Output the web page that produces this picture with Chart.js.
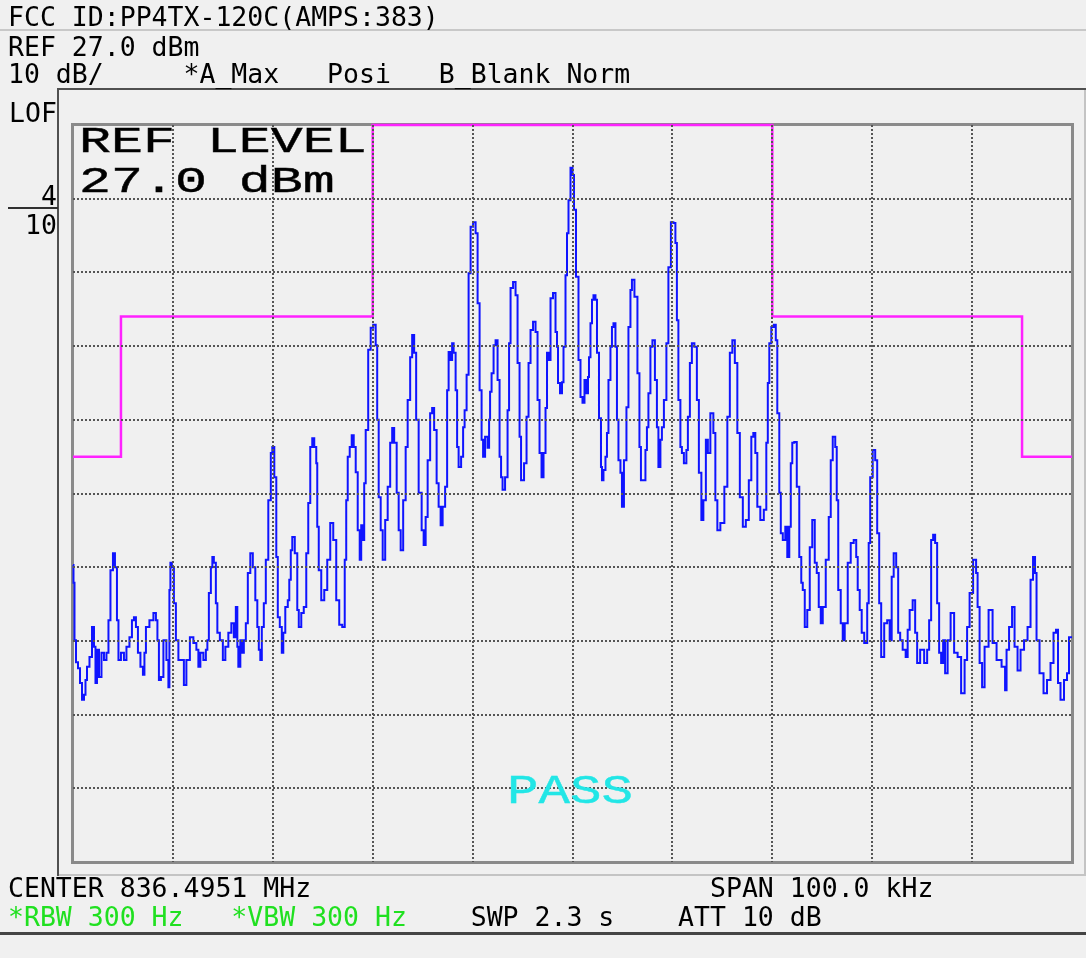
<!DOCTYPE html>
<html>
<head>
<meta charset="utf-8">
<script src="https://cdn.jsdelivr.net/npm/chart.js@4/dist/chart.umd.min.js"></script>
<style>
  html, body { margin: 0; padding: 0; background: #f0f0f0; }
  #wrap { position: relative; width: 1086px; height: 958px; overflow: hidden; background: #f0f0f0; }
  #c { position: absolute; left: 0; top: 0; }
  .ln { position: absolute; }
  .t {
    position: absolute; white-space: pre; color: #000;
    font-family: "DejaVu Sans Mono", monospace; font-size: 26.5px; line-height: 26.5px;
  }
  .big {
    position: absolute; white-space: pre; color: #000;
    font-family: "Liberation Mono", monospace;
    font-size: 37px; line-height: 37px;
    transform-origin: 0 0; transform: scaleX(1.44);
    -webkit-text-stroke: 0.4px #000;
  }
  .green { color: #20e020; }
</style>
</head>
<body>
<div id="wrap">
  <!-- frames -->
  <div class="ln" style="left:0;top:29px;width:1086px;height:2px;background:#c8c8c8"></div>
  <div class="ln" style="left:57px;top:88px;width:1029px;height:2px;background:#505050"></div>
  <div class="ln" style="left:57px;top:88px;width:2px;height:788px;background:#505050"></div>
  <div class="ln" style="left:1084px;top:90px;width:2px;height:786px;background:#c4c4c4"></div>
  <div class="ln" style="left:59px;top:874px;width:1027px;height:2px;background:#c4c4c4"></div>
  <div class="ln" style="left:8px;top:207px;width:50px;height:2px;background:#303030"></div>
  <div class="ln" style="left:71px;top:123px;width:997px;height:735px;border:3px solid #8a8a8a"></div>
  <div class="ln" style="left:0;top:932px;width:1086px;height:3px;background:#454545"></div>

  <canvas id="c" width="1086" height="958"></canvas>

  <div class="t" style="left:8px;top:4px">FCC ID:PP4TX-120C(AMPS:383)</div>
  <div class="t" style="left:8px;top:34px">REF 27.0 dBm</div>
  <div class="t" style="left:8px;top:61px">10 dB/     *A_Max   Posi   B_Blank Norm</div>
  <div class="t" style="left:9px;top:100px">LOF</div>
  <div class="t" style="left:41px;top:183px">4</div>
  <div class="t" style="left:25px;top:212px">10</div>

  <div class="big" style="left:79px;top:124px">REF LEVEL</div>
  <div class="big" style="left:79px;top:164px">27.0 dBm</div>
  <div class="big" style="left:507px;top:772px;font-size:41px;line-height:41px;transform:scaleX(1.28);color:#22e6e6;-webkit-text-stroke:0.4px #22e6e6">PASS</div>

  <div class="t" style="left:8px;top:875px">CENTER 836.4951 MHz                         SPAN 100.0 kHz</div>
  <div class="t" style="left:8px;top:904px"><span class="green">*RBW 300 Hz   *VBW 300 Hz</span>    SWP 2.3 s    ATT 10 dB</div>
</div>

<script>
// ---- axis grid (10 div x 10 div) ----
const xGrid = [-50, -40, -30, -20, -10, 0, 10, 20, 30, 40, 50];   // kHz offset from 836.4951 MHz
const yGrid = [-73, -63, -53, -43, -33, -23, -13, -3, 7, 17, 27];  // dBm, ref 27 dBm, 10 dB/div

// ---- limit mask (magenta) ----
const limitKHz = [-50, -45.2, -45.2, -20, -20, 20, 20, 45, 45, 50];
const limitDbm = [-18, -18, 1, 1, 27, 27, 1, 1, -18, -18];

// ---- trace A (max hold) ----
const traceKHz = [
  -50.0, -49.9, -49.8, -49.6, -49.4, -49.2, -49.0, -48.8, -48.7, -48.5,
  -48.2, -48.0, -47.8, -47.7, -47.5, -47.3, -47.0, -46.8, -46.5, -46.4,
  -46.1, -45.9, -45.7, -45.5, -45.4, -45.0, -44.8, -44.5, -44.2, -44.0,
  -43.8, -43.6, -43.4, -43.1, -42.9, -42.8, -42.6, -42.1, -41.8, -41.6,
  -41.5, -41.3, -41.1, -40.8, -40.5, -40.4, -40.3, -40.2, -40.0, -39.8,
  -39.6, -39.3, -39.0, -38.8, -38.5, -38.1, -37.8, -37.5, -37.4, -37.1,
  -36.8, -36.6, -36.5, -36.3, -36.1, -36.0, -35.8, -35.6, -35.5, -35.1,
  -34.9, -34.6, -34.3, -34.0, -33.8, -33.6, -33.5, -33.4, -33.1, -33.0,
  -32.8, -32.6, -32.4, -32.1, -31.9, -31.6, -31.5, -31.3, -31.2, -31.0,
  -30.8, -30.6, -30.3, -30.1, -30.0, -29.7, -29.6, -29.4, -29.2, -29.0,
  -28.9, -28.6, -28.4, -28.3, -28.1, -28.0, -27.6, -27.5, -27.3, -27.0,
  -26.8, -26.5, -26.4, -26.1, -26.0, -25.7, -25.6, -25.5, -25.3, -25.0,
  -24.7, -24.4, -24.1, -23.8, -23.5, -23.2, -22.9, -22.7, -22.6, -22.4,
  -22.2, -22.0, -21.8, -21.6, -21.4, -21.2, -21.1, -20.9, -20.8, -20.6,
  -20.3, -20.1, -19.8, -19.6, -19.5, -19.3, -19.1, -18.9, -18.6, -18.4,
  -18.1, -18.0, -17.7, -17.5, -17.3, -17.1, -16.8, -16.6, -16.4, -16.1,
  -16.0, -15.7, -15.6, -15.2, -15.0, -14.8, -14.6, -14.4, -14.1, -14.0,
  -13.7, -13.5, -13.3, -13.1, -12.9, -12.6, -12.5, -12.3, -12.1, -12.0,
  -11.8, -11.6, -11.5, -11.3, -11.0, -10.9, -10.7, -10.5, -10.3, -10.1,
  -9.8, -9.6, -9.4, -9.2, -9.0, -8.9, -8.6, -8.4, -8.3, -8.2,
  -8.0, -7.8, -7.6, -7.4, -7.2, -7.1, -6.9, -6.6, -6.4, -6.3,
  -6.1, -5.8, -5.6, -5.4, -5.2, -5.1, -5.0, -4.7, -4.5, -4.3,
  -4.1, -3.8, -3.6, -3.4, -3.2, -3.0, -2.8, -2.6, -2.5, -2.3,
  -2.1, -1.8, -1.6, -1.5, -1.4, -1.1, -1.0, -0.8, -0.6, -0.5,
  -0.3, -0.1, 0.1, 0.2, 0.5, 0.7, 0.9, 1.1, 1.3, 1.5,
  1.6, 1.7, 1.9, 2.0, 2.2, 2.4, 2.5, 2.8, 2.9, 3.0,
  3.2, 3.4, 3.5, 3.7, 3.9, 4.0, 4.2, 4.4, 4.5, 4.7,
  4.9, 5.0, 5.3, 5.5, 5.7, 5.9, 6.0, 6.4, 6.6, 6.8,
  6.9, 7.2, 7.4, 7.5, 7.7, 7.9, 8.1, 8.4, 8.5, 8.7,
  8.9, 9.0, 9.3, 9.5, 9.7, 10.0, 10.2, 10.4, 10.5, 10.7,
  10.9, 11.0, 11.3, 11.5, 11.6, 11.9, 12.0, 12.4, 12.5, 12.8,
  13.0, 13.2, 13.5, 13.6, 14.0, 14.2, 14.4, 14.6, 15.0, 15.4,
  15.6, 15.9, 16.1, 16.4, 16.6, 16.9, 17.2, 17.5, 17.8, 18.0,
  18.2, 18.4, 18.6, 19.0, 19.3, 19.5, 19.6, 19.8, 20.0, 20.3,
  20.4, 20.6, 20.8, 20.9, 21.2, 21.4, 21.6, 21.8, 21.9, 22.1,
  22.3, 22.6, 22.8, 23.0, 23.1, 23.4, 23.6, 23.9, 24.1, 24.4,
  24.5, 24.8, 24.9, 25.2, 25.5, 25.8, 25.9, 26.2, 26.4, 26.5,
  26.7, 27.0, 27.1, 27.4, 27.7, 28.0, 28.3, 28.5, 28.6, 28.9,
  29.0, 29.4, 29.6, 29.7, 29.9, 30.2, 30.4, 30.6, 30.8, 31.0,
  31.4, 31.6, 31.9, 32.0, 32.3, 32.5, 32.7, 32.9, 33.2, 33.5,
  33.6, 33.9, 34.2, 34.4, 34.6, 35.0, 35.4, 35.6, 35.8, 36.0,
  36.2, 36.4, 36.6, 36.8, 37.0, 37.2, 37.4, 37.7, 38.0, 38.4,
  38.7, 39.1, 39.4, 39.6, 39.9, 40.3, 40.5, 40.6, 40.9, 41.1,
  41.4, 41.9, 42.2, 42.7, 43.2, 43.4, 43.5, 43.9, 44.1, 44.4,
  44.7, 45.0, 45.4, 45.7, 46.0, 46.2, 46.4, 46.5, 47.0, 47.3,
  47.7, 48.0, 48.3, 48.5, 48.7, 49.0, 49.4, 49.6, 49.8, 50.0
];
const traceDbm = [
  -32.7, -35.1, -42.9, -45.9, -46.7, -48.7, -51.0, -50.3, -48.3, -46.5,
  -45.2, -41.1, -43.8, -48.7, -44.2, -47.9, -44.6, -45.6, -44.6, -40.2,
  -33.4, -31.1, -33.0, -40.2, -45.6, -44.6, -45.6, -43.8, -42.5, -40.2,
  -39.8, -41.1, -44.6, -46.5, -47.6, -44.6, -41.1, -40.2, -39.2, -40.2,
  -42.9, -48.3, -47.9, -42.9, -45.6, -49.3, -36.1, -32.4, -33.0, -37.9,
  -42.9, -45.6, -45.6, -49.0, -45.6, -42.5, -43.3, -44.2, -46.5, -44.6,
  -45.6, -44.2, -42.9, -36.5, -33.0, -31.6, -32.4, -37.9, -41.9, -42.9,
  -45.6, -43.8, -41.9, -40.6, -42.5, -38.4, -43.8, -46.5, -42.9, -44.6,
  -42.9, -40.6, -33.8, -31.1, -33.0, -37.5, -41.1, -44.2, -45.6, -41.1,
  -37.9, -32.0, -23.9, -17.5, -16.7, -20.8, -31.6, -39.8, -41.1, -44.6,
  -41.9, -38.4, -37.5, -34.7, -30.7, -28.9, -31.1, -38.8, -41.1, -39.2,
  -38.4, -31.1, -24.3, -16.7, -15.5, -16.7, -18.9, -27.5, -33.4, -37.5,
  -36.1, -32.0, -27.0, -29.3, -37.5, -40.8, -41.1, -32.0, -23.9, -18.0,
  -16.7, -15.1, -16.7, -20.1, -28.0, -32.0, -27.3, -29.3, -21.6, -14.4,
  -3.5, -0.5, -0.1, -2.9, -13.0, -23.5, -28.0, -32.0, -26.6, -22.1,
  -16.1, -14.1, -16.1, -22.9, -28.0, -30.7, -23.9, -16.7, -10.3, -4.5,
  -1.5, -3.9, -13.0, -22.9, -28.0, -30.0, -26.2, -18.5, -12.1, -11.4,
  -14.4, -21.6, -24.8, -27.3, -24.8, -22.1, -9.0, -3.8, -4.9, -2.6,
  -3.9, -9.0, -16.7, -19.4, -18.0, -14.0, -11.7, -6.9, 6.9, 13.2,
  13.8, 12.3, 2.8, -9.0, -15.7, -18.0, -15.3, -16.8, -13.0, -9.2,
  -6.7, -2.9, -2.2, -7.6, -18.0, -20.8, -22.5, -20.8, -11.7, -2.6,
  4.9, 5.7, 3.9, -5.3, -15.3, -21.2, -21.2, -18.9, -12.6, -5.3,
  -0.8, 0.3, -1.1, -10.3, -17.5, -20.8, -17.5, -11.4, -3.9, -4.9,
  3.5, 4.2, -1.1, -3.1, -8.0, -9.4, -7.9, -3.1, 6.6, 12.3,
  16.8, 21.2, 20.2, 15.5, 6.4, -4.9, -9.9, -10.7, -7.6, -9.4,
  -7.2, -4.5, 0.1, 3.3, 3.9, 3.3, -3.9, -12.8, -19.4, -21.2,
  -19.8, -18.0, -14.8, -7.6, -3.1, -0.4, 0.1, -3.1, -13.0, -18.5,
  -20.2, -24.8, -18.5, -11.3, -0.4, 4.6, 6.0, 3.7, -6.7, -16.7,
  -21.2, -21.2, -17.1, -14.0, -9.4, -3.1, -2.2, -7.6, -14.0, -19.4,
  -15.7, -14.0, -10.3, -2.6, 7.7, 13.8, 13.7, 11.0, 0.5, -10.3,
  -16.7, -17.5, -18.9, -17.1, -12.6, -5.3, -2.6, -3.1, -10.3, -20.2,
  -26.6, -23.9, -15.7, -17.5, -12.1, -14.8, -23.9, -28.0, -27.0, -22.1,
  -12.6, -3.9, -2.2, -5.3, -14.8, -23.5, -27.5, -26.6, -21.2, -15.3,
  -14.8, -17.5, -24.8, -26.6, -25.2, -16.1, -8.0, -2.6, -0.4, -0.1,
  -2.2, -12.1, -22.9, -28.4, -29.3, -27.5, -31.6, -27.5, -18.9, -16.1,
  -16.0, -22.1, -31.6, -35.1, -36.1, -41.1, -38.8, -30.3, -26.6, -32.4,
  -33.8, -38.4, -40.6, -38.4, -32.0, -26.2, -18.5, -15.3, -16.7, -23.9,
  -36.1, -40.6, -42.9, -40.6, -32.4, -29.7, -29.3, -31.6, -36.1, -38.8,
  -41.9, -43.3, -37.9, -29.7, -20.8, -17.1, -18.5, -28.4, -37.9, -45.2,
  -40.6, -40.2, -42.9, -34.3, -31.1, -33.0, -41.9, -42.9, -44.2, -45.2,
  -41.5, -38.8, -37.5, -41.9, -46.0, -44.2, -46.0, -44.2, -40.2, -29.3,
  -28.6, -29.7, -37.9, -44.6, -46.0, -42.9, -47.4, -42.9, -39.2, -44.6,
  -45.2, -50.1, -45.6, -41.1, -36.5, -32.0, -33.8, -38.4, -46.0, -49.3,
  -43.8, -38.8, -43.3, -45.6, -46.5, -49.7, -44.2, -41.1, -38.4, -43.8,
  -47.0, -44.2, -42.9, -41.1, -34.7, -31.6, -33.8, -42.9, -47.4, -50.1,
  -48.3, -46.0, -41.9, -41.5, -48.7, -51.0, -48.3, -47.4, -42.5, -42.5
];

const GRID_GRAY = "#555555";

// hide the grid lines that sit under the box border
const edgeless = (ctx) =>
  ctx.index === 0 || ctx.index === ctx.scale.ticks.length - 1 ? "rgba(0,0,0,0)" : GRID_GRAY;

new Chart(document.getElementById("c"), {
  type: "scatter",
  data: {
    datasets: [
      {
        label: "Trace A",
        data: traceKHz.map((f, i) => ({ x: f, y: traceDbm[i] })),
        showLine: true,
        stepped: "middle",
        borderColor: "#0f14ff",
        borderWidth: 2,
        pointRadius: 0,
        clip: 4,
      },
      {
        label: "Limit",
        data: limitKHz.map((f, i) => ({ x: f, y: limitDbm[i] })),
        showLine: true,
        borderColor: "#ff22ff",
        borderWidth: 2.5,
        pointRadius: 0,
        clip: 4,
      },
    ],
  },
  options: {
    responsive: false,
    animation: false,
    events: [],
    layout: { padding: { left: 73, top: 125, right: 14, bottom: 96 } },
    plugins: { legend: { display: false }, tooltip: { enabled: false } },
    scales: {
      x: {
        type: "linear",
        min: -50,
        max: 50,
        afterBuildTicks: (s) => { s.ticks = xGrid.map((v) => ({ value: v })); },
        ticks: { display: false },
        grid: { drawTicks: false, color: edgeless, lineWidth: 2, z: 1 },
        border: { display: false, dash: [2, 2] },
      },
      y: {
        type: "linear",
        min: -73,
        max: 27,
        afterBuildTicks: (s) => { s.ticks = yGrid.map((v) => ({ value: v })); },
        ticks: { display: false },
        grid: { drawTicks: false, color: edgeless, lineWidth: 2, z: 1 },
        border: { display: false, dash: [2, 2] },
      },
    },
  },
});
</script>
</body>
</html>
